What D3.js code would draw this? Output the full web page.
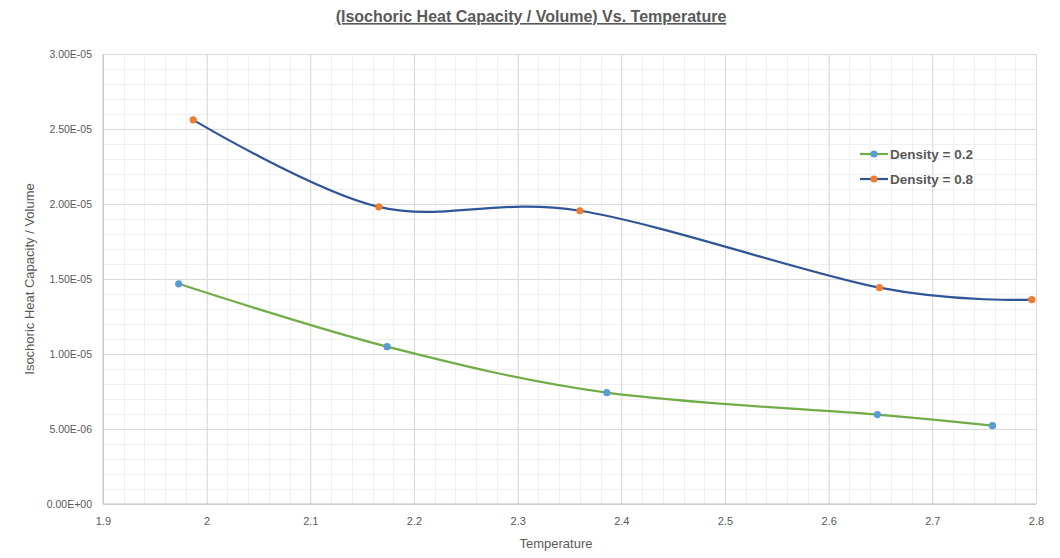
<!DOCTYPE html>
<html>
<head>
<meta charset="utf-8">
<script src="https://cdn.jsdelivr.net/npm/d3@7"></script>
<style>
  body { margin: 0; background: #fff; }
  text { font-family: "Liberation Sans", Arial, sans-serif; fill: #595959; }
</style>
</head>
<body>
<svg id="chart" width="1060" height="558"></svg>
<script>
// Data
const temp02 = [1.973, 2.174, 2.386, 2.647, 2.758];
const cv02 = [1.468e-5, 1.049e-5, 7.42e-6, 5.96e-6, 5.22e-6];
const temp08 = [1.987, 2.166, 2.360, 2.649, 2.796];
const cv08 = [2.561e-5, 1.981e-5, 1.955e-5, 1.442e-5, 1.362e-5];
const xTicks = [1.9, 2, 2.1, 2.2, 2.3, 2.4, 2.5, 2.6, 2.7, 2.8];
const yTicks = [0, 5e-6, 1e-5, 1.5e-5, 2e-5, 2.5e-5, 3e-5];
const seriesNames = ["Density = 0.2", "Density = 0.8"];

const svg = d3.select("#chart");
const margin = {left: 103, right: 1060 - 1036, top: 54, bottom: 558 - 504};

let x = d3.scaleLinear().domain([1.9, 2.8]).range([margin.left, 1060 - margin.right]);
let y = d3.scaleLinear().domain([0, 3e-5]).range([558 - margin.bottom, margin.top]);

// minor grid
let g = svg.append("g");
g.selectAll(".vminor")
  .data(d3.range(1.9, 2.8001, 0.02))
  .enter().append("line")
    .attr("x1", d => Math.round(x(d)) + 0.5).attr("x2", d => Math.round(x(d)) + 0.5)
    .attr("y1", y(0)).attr("y2", y(3e-5))
    .attr("stroke", "#f0f0f0");
g.selectAll(".hminor")
  .data(d3.range(0, 3.0001e-5, 1e-6))
  .enter().append("line")
    .attr("x1", x(1.9)).attr("x2", x(2.8))
    .attr("y1", d => Math.round(y(d)) + 0.5).attr("y2", d => Math.round(y(d)) + 0.5)
    .attr("stroke", "#f0f0f0");

// major grid via axes
svg.append("g")
    .attr("transform", "translate(0," + y(0) + ")")
    .call(d3.axisBottom(x).tickValues(xTicks).tickSize(-(y(0) - y(3e-5))).tickFormat(d3.format("")))
    .call(a => a.select(".domain").remove())
    .call(a => a.selectAll("line").attr("stroke", "#d9d9d9"))
    .call(a => a.selectAll("text").attr("dy", "1.6em").style("font-size", "11px").style("fill", "#595959"));

svg.append("g")
    .attr("transform", "translate(" + x(1.9) + ",0)")
    .call(d3.axisLeft(y).tickValues(yTicks).tickSize(-(x(2.8) - x(1.9)))
      .tickFormat(d => d.toExponential(2).toUpperCase().replace(/E([+-])(\d)$/, "E$10$2")))
    .call(a => a.select(".domain").remove())
    .call(a => a.selectAll("line").attr("stroke", "#d9d9d9"))
    .call(a => a.selectAll("text").attr("x", -11).style("font-size", "10.5px").style("fill", "#595959"));

// axis lines
svg.append("line")
    .attr("x1", x(1.9)).attr("x2", x(2.8)).attr("y1", y(0)).attr("y2", y(0))
    .attr("stroke", "#bfbfbf");
svg.append("line")
    .attr("x1", x(1.9)).attr("x2", x(1.9)).attr("y1", y(0)).attr("y2", y(3e-5))
    .attr("stroke", "#bfbfbf");

// series
let lineGen = d3.line()
    .x(d => x(d[0])).y(d => y(d[1]))
    .curve(d3.curveCatmullRom.alpha(0));

const series = [
  {name: seriesNames[0], pts: d3.zip(temp02, cv02), line: "#70ad47", dot: "#5b9bd5"},
  {name: seriesNames[1], pts: d3.zip(temp08, cv08), line: "#2f5597", dot: "#ed7d31"}
];

series.forEach(function(s){
  svg.append("path")
      .attr("d", lineGen(s.pts))
      .attr("fill", "none")
      .attr("stroke", s.line)
      .attr("stroke-width", 2.2);
  svg.selectAll(null)
    .data(s.pts)
    .enter().append("circle")
      .attr("cx", d => x(d[0])).attr("cy", d => y(d[1]))
      .attr("r", 3.6)
      .attr("fill", s.dot);
});

// legend
let legend = svg.append("g");
series.forEach(function(s, i){
  let ly = 154 + i * 25;
  legend.append("line")
      .attr("x1", 860).attr("x2", 888).attr("y1", ly).attr("y2", ly)
      .attr("stroke", s.line).attr("stroke-width", 2.2);
  legend.append("circle")
      .attr("cx", 874).attr("cy", ly).attr("r", 3.6).attr("fill", s.dot);
  legend.append("text")
      .attr("x", 890).attr("y", ly).attr("dy", "0.35em")
      .style("font-size", "13.5px").style("font-weight", "bold")
      .text(s.name);
});

// title
svg.append("text")
    .attr("x", 531).attr("y", 22)
    .attr("text-anchor", "middle")
    .style("font-size", "16px").style("font-weight", "bold")
    .style("text-decoration", "underline")
    .text("(Isochoric Heat Capacity / Volume) Vs. Temperature");

// axis titles
svg.append("text")
    .attr("x", 556).attr("y", 548)
    .attr("text-anchor", "middle")
    .style("font-size", "13px")
    .text("Temperature");

svg.append("text")
    .attr("transform", "translate(34,279) rotate(-90)")
    .attr("text-anchor", "middle")
    .style("font-size", "13px")
    .text("Isochoric Heat Capacity / Volume");
</script>
</body>
</html>
